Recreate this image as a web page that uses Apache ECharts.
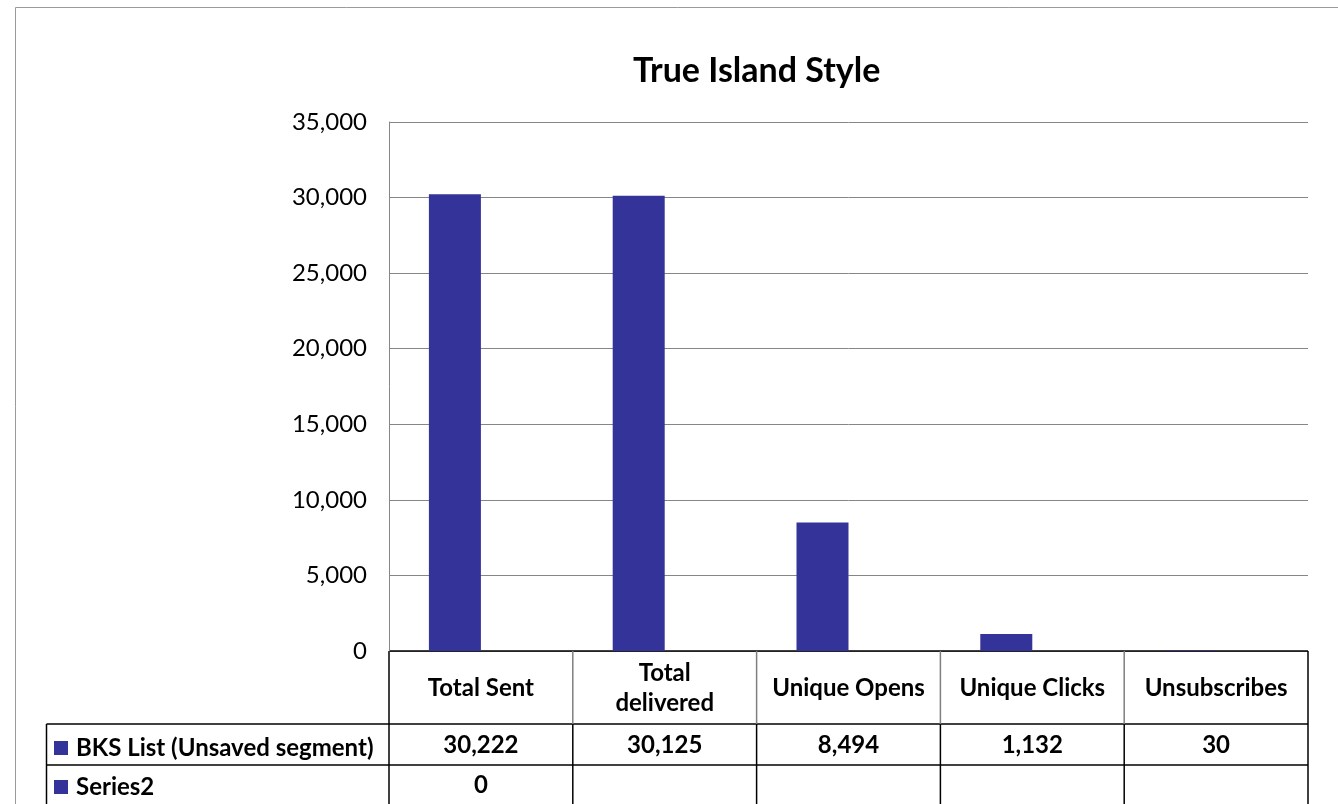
<!DOCTYPE html>
<html>
<head>
<meta charset="utf-8">
<script src="https://cdn.jsdelivr.net/npm/echarts@6/dist/echarts.min.js"></script>
<style>
html,body{margin:0;padding:0;background:#fff;}
#chart{width:1338px;height:804px;}
</style>
</head>
<body>
<div id="chart"></div>
<script>
// ---- data ----
const titleText = 'True Island Style';
const categories = ['Total Sent', 'Total delivered', 'Unique Opens', 'Unique Clicks', 'Unsubscribes'];
const seriesNames = ['BKS List (Unsaved segment)', 'Series2'];
const bksValues = [30222, 30125, 8494, 1132, 30];
const series2Values = [0, null, null, null, null];
const yTicks = [0, 5000, 10000, 15000, 20000, 25000, 30000, 35000];

const FONT = 'Lato';
const BAR = '#333399';
const TFS = 24;
const fmt = v => (v === null || v === undefined) ? '' : v.toLocaleString('en-US');

const chart = echarts.init(document.getElementById('chart'), null, {renderer: 'canvas'});

const legendBase = {
  orient: 'horizontal', left: 49, itemWidth: 14, itemHeight: 14, icon: 'rect', selectedMode: false,
  textStyle: {fontFamily: FONT, fontWeight: 'bold', fontSize: TFS, color: '#000', padding: [0, 0, 0, 3]}
};

const option = {
  animation: false,
  backgroundColor: '#fff',
  title: {
    text: titleText,
    left: 628,
    top: 49,
    textStyle: {fontFamily: FONT, fontWeight: 'bold', fontSize: 34, color: '#000'}
  },
  legend: [
    Object.assign({}, legendBase, {top: 731, data: [seriesNames[0]]}),
    Object.assign({}, legendBase, {top: 770, data: [seriesNames[1]]})
  ],
  grid: {left: 389, right: 30, top: 122, bottom: 153, containLabel: false},
  xAxis: [
    {
      type: 'category', data: categories, position: 'bottom',
      axisLine: {show: false}, axisTick: {show: false}, splitLine: {show: false},
      axisLabel: {
        interval: 0, hideOverlap: false,
        margin: 37, verticalAlign: 'middle', lineHeight: 30,
        fontFamily: FONT, fontWeight: 'bold', fontSize: TFS, color: '#000',
        formatter: v => v === 'Total delivered' ? 'Total\ndelivered' : v
      }
    },
    {
      type: 'category', data: categories, position: 'bottom', gridIndex: 0,
      axisLine: {show: false}, axisTick: {show: false}, splitLine: {show: false},
      axisLabel: {
        interval: 0, hideOverlap: false,
        margin: 94, verticalAlign: 'middle',
        fontFamily: FONT, fontWeight: 'bold', fontSize: TFS, color: '#000',
        formatter: (v, i) => fmt(bksValues[i])
      }
    },
    {
      type: 'category', data: categories, position: 'bottom', gridIndex: 0,
      axisLine: {show: false}, axisTick: {show: false}, splitLine: {show: false},
      axisLabel: {
        interval: 0, hideOverlap: false,
        margin: 134, verticalAlign: 'middle',
        fontFamily: FONT, fontWeight: 'bold', fontSize: TFS, color: '#000',
        formatter: (v, i) => fmt(series2Values[i])
      }
    }
  ],
  yAxis: {
    type: 'value', min: yTicks[0], max: yTicks[yTicks.length - 1], interval: yTicks[1] - yTicks[0],
    axisLine: {show: true, lineStyle: {color: '#868686', width: 1}},
    axisTick: {show: false},
    splitLine: {show: true, lineStyle: {color: '#868686', width: 1}},
    axisLabel: {margin: 22, fontFamily: FONT, fontSize: 24, color: '#000', formatter: v => fmt(v)}
  },
  series: [
    {name: seriesNames[0], type: 'bar', xAxisIndex: 0, data: bksValues, barWidth: 52, barGap: '0%',
     itemStyle: {color: BAR}},
    {name: seriesNames[1], type: 'bar', xAxisIndex: 0, data: series2Values, barWidth: 52, barGap: '0%',
     itemStyle: {color: BAR}}
  ]
};
chart.setOption(option);

// ---- data table lines and outer frame ----
function drawTable() {
  const c0 = chart.convertToPixel({xAxisIndex: 0}, categories[0]);
  const c1 = chart.convertToPixel({xAxisIndex: 0}, categories[1]);
  const band = c1 - c0;
  const xs = categories.map((_, i) => c0 - band / 2 + i * band);
  xs.push(c0 - band / 2 + categories.length * band);
  const y0 = chart.convertToPixel({yAxisIndex: 0}, 0);
  const yHead = y0 + 73;
  const yRow1 = yHead + 41;
  const yEnd = 830;
  const leftX = 46.5;
  const els = [];
  const line = (x1, y1, x2, y2, color) => els.push({
    type: 'line', silent: true,
    shape: {x1, y1, x2, y2},
    style: {stroke: color, lineWidth: 1.5}
  });
  els.push({type: 'rect', silent: true, shape: {x: 15.5, y: 7.5, width: 1400, height: 900},
            style: {fill: null, stroke: '#9a9a9a', lineWidth: 1}});
  line(xs[0], y0, xs[xs.length - 1], y0, '#000');
  line(leftX, yHead, xs[xs.length - 1], yHead, '#000');
  line(leftX, yRow1, xs[xs.length - 1], yRow1, '#000');
  line(leftX, yHead, leftX, yEnd, '#000');
  xs.forEach((x, i) => {
    const edge = (i === 0 || i === xs.length - 1);
    line(x, y0, x, yHead, edge ? '#000' : '#7f7f7f');
    line(x, yHead, x, yEnd, '#000');
  });
  chart.setOption({graphic: {elements: els}});
}
drawTable();
</script>
</body>
</html>
